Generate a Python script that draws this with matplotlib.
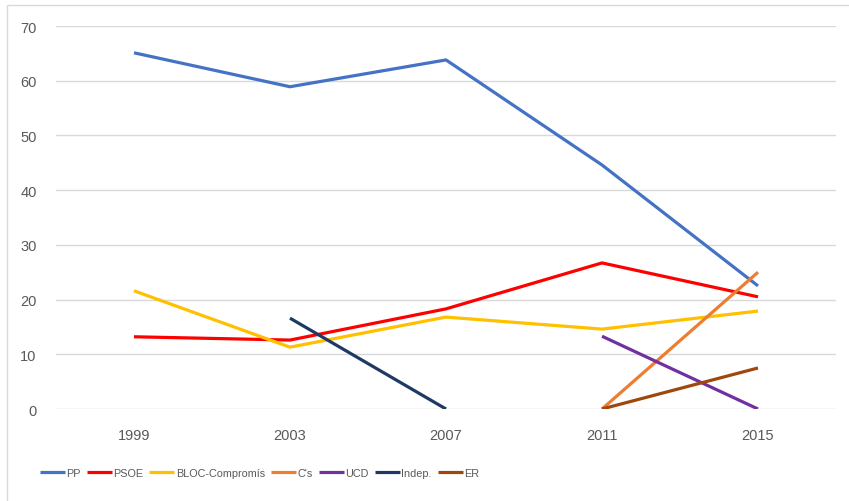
import matplotlib
matplotlib.use('Agg')
import matplotlib.pyplot as plt
from matplotlib.patches import Rectangle
import numpy as np

plt.rcParams['font.family'] = ['Liberation Sans', 'DejaVu Sans']

years = ['1999', '2003', '2007', '2011', '2015']
pp = [65.1, 58.9, 63.8, 44.6, 22.5]
psoe = [13.2, 12.6, 18.3, 26.7, 20.5]
bloc = [21.6, 11.3, 16.8, 14.6, 17.9]
cs = [None, None, None, 0, 25.0]
ucd = [None, None, None, 13.3, 0]
indep = [None, 16.6, 0, None, None]
er = [None, None, None, 0, 7.5]

series = [('PP', pp, '#4472C4'),
          ('PSOE', psoe, '#FF0000'),
          ('BLOC-Compromís', bloc, '#FFC000'),
          ("C's", cs, '#ED7D31'),
          ('UCD', ucd, '#7030A0'),
          ('Indep.', indep, '#203864'),
          ('ER', er, '#9E480E')]

fig = plt.figure(figsize=(8.49, 5.02), dpi=100)
ax = fig.add_axes([56/849, 1 - 410/502, 780/849, 383/502])

x = np.arange(len(years))
for name, vals, col in series:
    y = np.array([np.nan if v is None else v for v in vals], dtype=float)
    ax.plot(x, y, color=col, lw=2.3, label=name, solid_capstyle='butt')

ax.set_xlim(-0.5, len(years) - 0.5)
ax.set_ylim(0, 70)
ax.set_yticks(range(0, 71, 10))
ax.set_xticks(x)
ax.set_xticklabels(years)
for s in ax.spines.values():
    s.set_visible(False)
ax.grid(axis='y', color='#D9D9D9', lw=1)
ax.set_axisbelow(True)
ax.tick_params(length=0, labelsize=10.5, colors='#595959')
ax.tick_params(axis='y', pad=14)
ax.tick_params(axis='x', pad=14)

fig.legend(loc='center left', bbox_to_anchor=(30/849, 1 - 474/502), ncol=7,
           frameon=False, handlelength=2.3, handletextpad=0.15,
           columnspacing=0.55, labelcolor='#595959',
           prop={'family': ['Liberation Sans'], 'size': 7.8})

fig.patches.append(Rectangle((7/849, -0.1), 1.0, 1 - 6/502 + 0.1, transform=fig.transFigure,
                             fill=False, edgecolor='#D9D9D9', lw=1))

fig.savefig('out.png', dpi=100)
